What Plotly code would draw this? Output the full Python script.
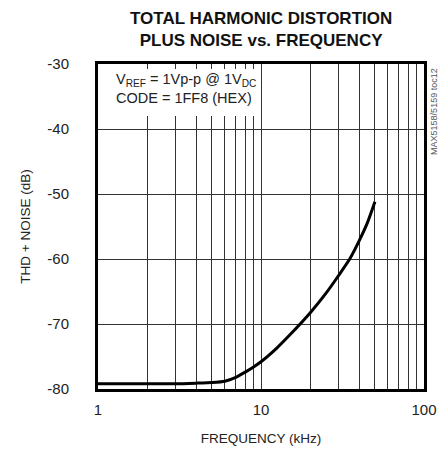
import plotly.graph_objects as go

freq_khz = [1, 2, 3, 4, 5, 6, 7, 8, 9, 10, 12.5, 15, 20, 25, 30, 35, 40, 45, 50]
thdn_db = [-79.2, -79.2, -79.2, -79.1, -79.0, -78.8, -78.2, -77.4, -76.6, -75.8,
           -73.7, -71.7, -68.3, -65.3, -62.5, -60.0, -57.2, -54.4, -51.2]

x_grid_vals = [1, 2, 3, 4, 5, 6, 7, 8, 9, 10, 20, 30, 40, 50, 60, 70, 80, 90, 100]
x_tick_text = ["1", "", "", "", "", "", "", "", "", "10", "", "", "", "", "", "", "", "", "100"]
y_tick_vals = [-80, -70, -60, -50, -40, -30]
y_tick_text = ["-80", "-70", "-60", "-50", "-40", "-30"]

FONT = "Liberation Sans Narrow, Arial Narrow, Liberation Sans, Arial, sans-serif"

fig = go.Figure()
fig.add_trace(go.Scatter(
    x=freq_khz, y=thdn_db, mode="lines",
    line=dict(color="black", width=3, shape="spline", smoothing=0.6),
    showlegend=False, hoverinfo="skip"))

fig.update_layout(
    width=447, height=453,
    margin=dict(l=98, r=23, t=64, b=64),
    paper_bgcolor="white", plot_bgcolor="white",
    font=dict(family=FONT, size=14, color="#222"),
    xaxis=dict(type="log", range=[0, 2], tickvals=x_grid_vals, ticktext=x_tick_text,
               showgrid=True, gridcolor="#333", gridwidth=1, automargin=False,
               showline=True, linecolor="black", linewidth=3, mirror=True,
               ticks="", ticklabelstandoff=5, zeroline=False,
               tickfont=dict(size=15),
               title=dict(text="FREQUENCY (kHz)", standoff=17, font=dict(size=13.5))),
    yaxis=dict(range=[-80, -30], tickvals=y_tick_vals, ticktext=y_tick_text,
               showgrid=True, gridcolor="#333", gridwidth=1, automargin=False,
               showline=True, linecolor="black", linewidth=3, mirror=True,
               ticks="", ticklabelstandoff=23, zeroline=False,
               tickfont=dict(size=15),
               title=dict(text="THD + NOISE (dB)", standoff=14, font=dict(size=13.5))),
)

fig.add_shape(type="rect", xref="paper", yref="paper",
              x0=0.008, x1=0.49, y0=0.84, y1=0.985,
              fillcolor="white", line=dict(width=0), layer="above")

fig.add_annotation(xref="paper", yref="paper", x=0.5, y=1.105,
                   xanchor="center", yanchor="middle",
                   text="<b>TOTAL HARMONIC DISTORTION<br>PLUS NOISE vs. FREQUENCY</b>",
                   showarrow=False, align="center",
                   font=dict(family=FONT, size=17, color="#111"))

fig.add_annotation(xref="paper", yref="paper", x=0.05, y=0.985, xanchor="left", yanchor="top",
                   text="V<sub>REF</sub> = 1Vp-p @ 1V<sub>DC</sub><br>CODE = 1FF8 (HEX)",
                   showarrow=False, align="left", font=dict(family=FONT, size=14.5, color="#222"))

fig.add_annotation(xref="paper", yref="paper", x=1.03, y=0.855, xanchor="center", yanchor="middle",
                   text="MAX5158/5159 toc12", textangle=-90, showarrow=False,
                   font=dict(family=FONT, size=9, color="#555"))

fig.write_html("out.html", config={"displayModeBar": False},
               post_script="document.body.style.margin='0';document.body.style.overflow='hidden';")
